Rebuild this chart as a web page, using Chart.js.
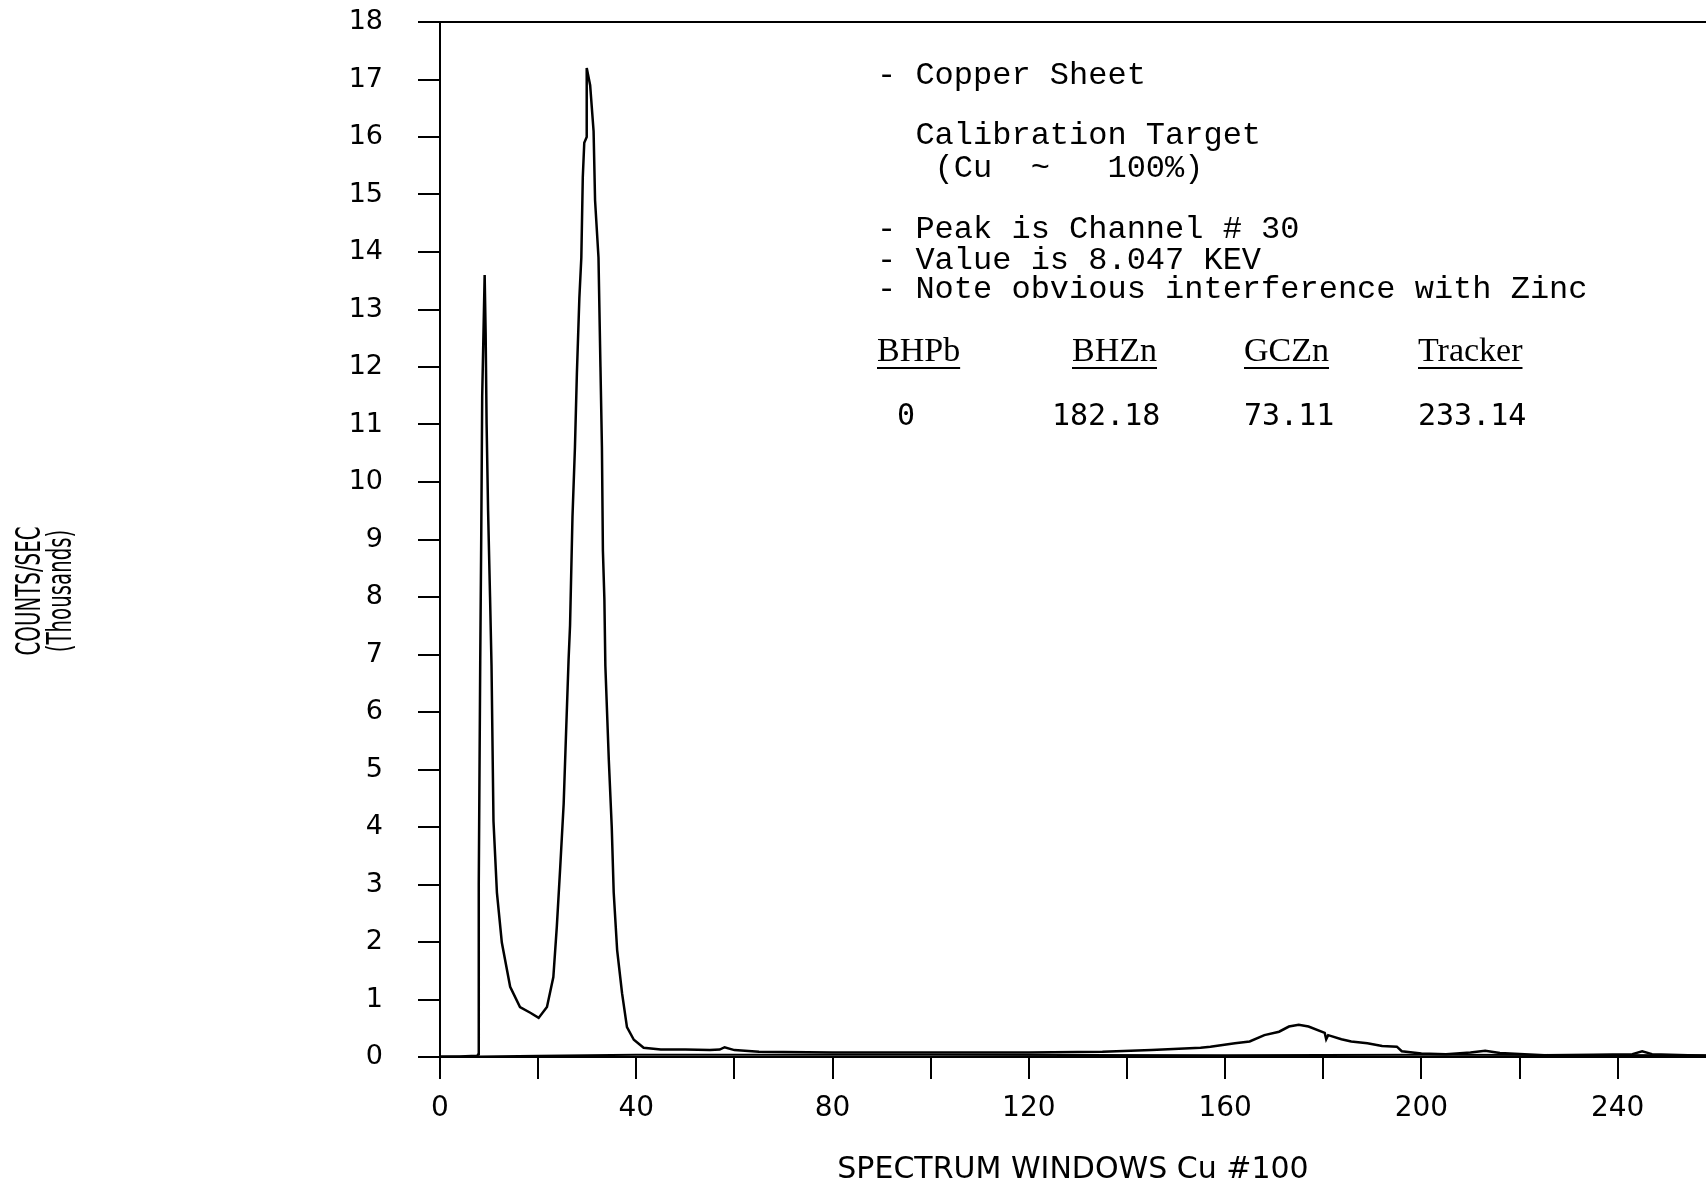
<!DOCTYPE html>
<html>
<head>
<meta charset="utf-8">
<script src="https://cdn.jsdelivr.net/npm/chart.js@4/dist/chart.umd.min.js"></script>
<style>
  html, body { margin: 0; padding: 0; background: #fff; }
  #wrap { width: 1706px; height: 1190px; }
</style>
</head>
<body>
<div id="wrap"><canvas id="c" width="1706" height="1190"></canvas></div>
<script>
// spectrum trace (channel, thousands of counts/sec)
const spectrumChannel = [0, 4, 7.6, 7.8, 7.9, 8.2, 8.4, 8.6, 9.1, 9.3, 9.5, 9.8, 10.2, 10.5, 10.9, 11.6, 12.6, 14.3, 16.3, 18.4, 20.1,
  21.8, 23.1, 23.8, 24.5, 25.2, 25.7, 26.2, 26.5, 27.0, 27.5, 27.9, 28.4, 28.8, 29.1, 29.4, 29.9, 29.9, 30.6, 31.3, 31.6,
  32.3, 32.7, 33.0, 33.2, 33.5, 33.7, 34.4, 35.0, 35.4, 36.1, 37.1, 38.1, 39.5, 41.5, 45, 50, 55, 57, 58, 60, 65, 80,
  100, 120, 135, 145, 155, 157, 162, 165, 168, 171, 173, 175, 177, 180.3, 180.6, 181, 183.7, 185.7, 189, 192, 195, 196,
  200, 205, 210, 213, 216, 225, 235, 243, 245, 247, 258]
const spectrumCounts = [0.01, 0.01, 0.02, 0.05, 3.0, 6.9, 9.0, 11.5, 13.6, 12.6, 11.0, 9.5, 8.0, 6.8, 4.1, 2.86, 1.99, 1.22, 0.87, 0.77, 0.68,
  0.87, 1.39, 2.26, 3.3, 4.4, 5.66, 6.9, 7.5, 9.4, 10.6, 11.9, 13.2, 13.9, 15.3, 15.9, 16.0, 17.2, 16.9, 16.1, 14.9,
  13.9, 12.0, 10.6, 8.8, 7.96, 6.8, 5.17, 4.0, 2.86, 1.86, 1.11, 0.52, 0.3, 0.16, 0.13, 0.13, 0.12, 0.13, 0.17, 0.12, 0.09, 0.08,
  0.08, 0.08, 0.09, 0.12, 0.16, 0.18, 0.24, 0.27, 0.38, 0.44, 0.53, 0.56, 0.53, 0.42, 0.31, 0.38, 0.31, 0.27, 0.24, 0.19, 0.18, 0.1,
  0.06, 0.05, 0.08, 0.11, 0.07, 0.03, 0.04, 0.05, 0.1, 0.05, 0.02]

// flat background trace
const backgroundChannel = [0, 8, 20, 40, 100, 160, 200, 258]
const backgroundCounts = [0.0, 0.01, 0.02, 0.04, 0.04, 0.03, 0.04, 0.03]

const xTickValues = [0, 20, 40, 60, 80, 100, 120, 140, 160, 180, 200, 220, 240]
const xLabelValues = [0, 40, 80, 120, 160, 200, 240]

const yTitleLines = ['COUNTS/SEC', '(Thousands)']
const noteLines = [
  '- Copper Sheet',
  '',
  '  Calibration Target',
  '   (Cu  ~   100%)',
  '',
  '- Peak is Channel # 30',
  '- Value is 8.047 KEV',
  '- Note obvious interference with Zinc',
]
const tableHeaders = ['BHPb', 'BHZn', 'GCZn', 'Tracker']
const tableValues = ['0', '182.18', '73.11', '233.14']

const toPoints = (xs, ys) => xs.map((x, i) => ({ x, y: ys[i] }))

const notesPlugin = {
  id: 'notes',
  afterDraw(chart) {
    const { ctx, chartArea: a } = chart
    ctx.save()
    // top frame line
    ctx.strokeStyle = '#000'
    ctx.lineWidth = 2
    ctx.beginPath()
    ctx.moveTo(a.left, a.top)
    ctx.lineTo(a.right, a.top)
    ctx.stroke()

    ctx.fillStyle = '#000'
    ctx.textBaseline = 'middle'
    ctx.font = '32px "Liberation Mono", monospace'
    const lineY = [76, 106, 136, 169, 199, 230, 261, 290]
    noteLines.forEach((t, i) => { if (t) ctx.fillText(t, 877, lineY[i]) })

    const colX = [877, 1072, 1244, 1418]
    ctx.font = '34px "Liberation Serif", serif'
    tableHeaders.forEach((t, i) => {
      ctx.fillText(t, colX[i], 352)
      const w = ctx.measureText(t).width
      ctx.fillRect(colX[i], 367, w, 2)
    })
    const valX = [897, 1052, 1244, 1418]
    ctx.font = '30px "DejaVu Sans Mono", monospace'
    tableValues.forEach((t, i) => ctx.fillText(t, valX[i], 417))

    // y axis title, narrow plotter lettering
    ctx.translate(31, 591)
    ctx.rotate(-Math.PI / 2)
    ctx.scale(0.6, 1)
    ctx.textAlign = 'center'
    ctx.font = '33px "DejaVu Sans", sans-serif'
    yTitleLines.forEach((t, i) => ctx.fillText(t, 0, i * 31))
    ctx.restore()
  }
}

new Chart(document.getElementById('c'), {
  type: 'line',
  data: {
    datasets: [
      {
        label: 'Copper Sheet',
        data: toPoints(spectrumChannel, spectrumCounts),
        borderColor: '#000',
        borderWidth: 2.5,
        pointRadius: 0,
        tension: 0,
      },
      {
        label: 'Background',
        data: toPoints(backgroundChannel, backgroundCounts),
        borderColor: '#000',
        borderWidth: 2,
        pointRadius: 0,
        tension: 0,
      },
    ],
  },
  options: {
    responsive: false,
    animation: false,
    layout: { padding: { top: 22, right: 0, left: 0, bottom: 0 } },
    plugins: { legend: { display: false }, tooltip: { enabled: false } },
    scales: {
      x: {
        type: 'linear',
        min: 0,
        max: 258,
        afterBuildTicks: s => { s.ticks = xTickValues.map(v => ({ value: v })) },
        afterFit: s => { s.height = 133; s.paddingLeft = 0; s.paddingRight = 0 },
        border: { display: true, color: '#000', width: 2 },
        grid: { drawOnChartArea: false, color: '#000', lineWidth: 2, tickLength: 22 },
        ticks: {
          color: '#000',
          padding: 13,
          maxRotation: 0,
          autoSkip: false,
          font: { family: '"DejaVu Sans", sans-serif', size: 28 },
          callback: v => xLabelValues.includes(v) ? String(v) : '',
        },
        title: {
          display: true,
          text: 'SPECTRUM WINDOWS Cu #100',
          color: '#000',
          padding: { top: 0, bottom: 2 },
          font: { family: '"DejaVu Sans", sans-serif', size: 30 },
        },
      },
      y: {
        min: 0,
        max: 18,
        afterFit: s => { s.width = 440; s.paddingTop = 0; s.paddingBottom = 0 },
        border: { display: true, color: '#000', width: 2 },
        grid: { drawOnChartArea: false, color: '#000', lineWidth: 2, tickLength: 22 },
        ticks: {
          stepSize: 1,
          color: '#000',
          padding: 35,
          font: { family: '"DejaVu Sans", sans-serif', size: 27 },
        },
      },
    },
  },
  plugins: [notesPlugin],
})
</script>
</body>
</html>
